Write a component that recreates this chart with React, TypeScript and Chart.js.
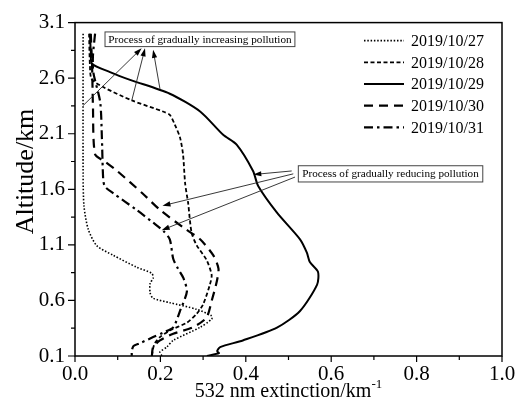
import React, { useEffect, useRef } from "react";
import { Chart, registerables } from "chart.js";

Chart.register(...registerables);

// ---- data ----
const seriesLabels = ["2019/10/27", "2019/10/28", "2019/10/29", "2019/10/30", "2019/10/31"];

const ext27 = [0.019, 0.019, 0.021, 0.031, 0.051, 0.089, 0.144, 0.18, 0.183, 0.176, 0.176, 0.183, 0.222, 0.285, 0.32, 0.32, 0.293, 0.23, 0.215, 0.199, 0.204];
const alt27 = [3.0, 1.74, 1.45, 1.24, 1.093, 1.007, 0.9, 0.843, 0.8, 0.755, 0.667, 0.62, 0.58, 0.52, 0.461, 0.432, 0.358, 0.24, 0.18, 0.135, 0.1];

const ext28 = [0.033, 0.035, 0.039, 0.066, 0.133, 0.206, 0.222, 0.234, 0.246, 0.253, 0.258, 0.265, 0.273, 0.285, 0.308, 0.32, 0.316, 0.3, 0.285, 0.262, 0.222, 0.199, 0.187, 0.183, 0.18];
const alt28 = [3.0, 2.71, 2.59, 2.52, 2.4, 2.3, 2.27, 2.18, 2.065, 1.915, 1.65, 1.475, 1.21, 1.096, 0.965, 0.83, 0.743, 0.565, 0.48, 0.4, 0.33, 0.27, 0.215, 0.17, 0.1];

const ext29 = [0.035, 0.037, 0.04, 0.082, 0.129, 0.222, 0.293, 0.347, 0.379, 0.417, 0.429, 0.473, 0.527, 0.543, 0.55, 0.569, 0.567, 0.527, 0.473, 0.393, 0.34, 0.333, 0.337, 0.309];
const alt29 = [3.0, 2.84, 2.73, 2.655, 2.585, 2.46, 2.3, 2.09, 2.0, 1.765, 1.63, 1.39, 1.15, 1.03, 0.945, 0.858, 0.743, 0.505, 0.355, 0.24, 0.18, 0.145, 0.125, 0.1];

const ext30 = [0.037, 0.04, 0.042, 0.047, 0.07, 0.098, 0.159, 0.199, 0.254, 0.293, 0.324, 0.336, 0.332, 0.32, 0.308, 0.277, 0.23, 0.199, 0.183, 0.18];
const alt30 = [3.0, 2.71, 2.355, 1.915, 1.85, 1.768, 1.56, 1.415, 1.255, 1.15, 1.005, 0.887, 0.77, 0.595, 0.446, 0.36, 0.3, 0.24, 0.18, 0.1];

const ext31 = [0.047, 0.042, 0.043, 0.059, 0.063, 0.066, 0.07, 0.09, 0.144, 0.183, 0.207, 0.222, 0.23, 0.241, 0.254, 0.262, 0.246, 0.23, 0.206, 0.183, 0.152, 0.137, 0.133, 0.133];
const alt31 = [3.0, 2.8, 2.65, 2.385, 2.06, 1.695, 1.625, 1.563, 1.415, 1.3, 1.225, 1.15, 0.975, 0.887, 0.8, 0.68, 0.506, 0.358, 0.31, 0.27, 0.215, 0.19, 0.145, 0.1];

const extTicks = [0, 0.2, 0.4, 0.6, 0.8, 1.0];
const extMinorTicks = [0.1, 0.3, 0.5, 0.7, 0.9];
const altTicks = [0.1, 0.6, 1.1, 1.6, 2.1, 2.6, 3.1];
const altMinorTicks = [0.35, 0.85, 1.35, 1.85, 2.35, 2.85];

const xTitle = "532 nm extinction/km";
const xTitleSup = "-1";
const yTitle = "Altitude/km";

// annotations in data coordinates
const noteTexts = ["Process of gradually increasing pollution", "Process of gradually reducing pollution"];
const noteBoxX = [0.0703, 0.523]; // left edge
const noteBoxX2 = [0.515, 0.955]; // right edge
const noteBoxTop = [3.016, 1.812];
const noteBoxBottom = [2.884, 1.666];
const arrowTailX = [0.0194, 0.133, 0.199, 0.5075, 0.5112, 0.5152];
const arrowTailY = [2.355, 2.4, 2.503, 1.765, 1.739, 1.71];
const arrowHeadX = [0.156, 0.164, 0.183, 0.4176, 0.2049, 0.203];
const arrowHeadY = [2.869, 2.869, 2.855, 1.733, 1.452, 1.232];

const SERIF = "'Liberation Serif', 'Times New Roman', serif";

const styles = [
  { dash: [1.5, 1.8], width: 1.6 },
  { dash: [4, 2.5], width: 1.8 },
  { dash: [], width: 2 },
  { dash: [9, 6], width: 2.2 },
  { dash: [9, 4, 2.5, 4], width: 2.2 },
];

const pairs = [
  [ext27, alt27],
  [ext28, alt28],
  [ext29, alt29],
  [ext30, alt30],
  [ext31, alt31],
];

const framePlugin = {
  id: "framePlugin",
  afterDraw(chart: any) {
    const { ctx, chartArea } = chart;
    const xs = chart.scales.x;
    const ys = chart.scales.y;
    const { left, right, top, bottom } = chartArea;
    ctx.save();
    // frame
    ctx.strokeStyle = "#000";
    ctx.lineWidth = 1.5;
    ctx.setLineDash([]);
    ctx.strokeRect(left, top, right - left, bottom - top);
    // ticks
    ctx.lineWidth = 1.2;
    ctx.beginPath();
    extTicks.forEach((v) => {
      const px = xs.getPixelForValue(v);
      ctx.moveTo(px, bottom);
      ctx.lineTo(px, bottom + 6);
    });
    extMinorTicks.forEach((v) => {
      const px = xs.getPixelForValue(v);
      ctx.moveTo(px, bottom);
      ctx.lineTo(px, bottom + 4);
    });
    altTicks.forEach((v) => {
      const py = ys.getPixelForValue(v);
      ctx.moveTo(left, py);
      ctx.lineTo(left - 7, py);
    });
    altMinorTicks.forEach((v) => {
      const py = ys.getPixelForValue(v);
      ctx.moveTo(left, py);
      ctx.lineTo(left - 4, py);
    });
    ctx.stroke();

    // axis titles
    ctx.fillStyle = "#000";
    ctx.font = `20px ${SERIF}`;
    const mainW = ctx.measureText(xTitle).width;
    ctx.font = `13px ${SERIF}`;
    const supW = ctx.measureText(xTitleSup).width;
    const cx = (left + right) / 2;
    const startX = cx - (mainW + supW) / 2;
    const baseY = 397;
    ctx.textBaseline = "alphabetic";
    ctx.textAlign = "left";
    ctx.font = `20px ${SERIF}`;
    ctx.fillText(xTitle, startX, baseY);
    ctx.font = `13px ${SERIF}`;
    ctx.fillText(xTitleSup, startX + mainW, baseY - 9);

    ctx.save();
    ctx.translate(32.5, 171.5);
    ctx.rotate(-Math.PI / 2);
    ctx.font = `26px ${SERIF}`;
    ctx.textAlign = "center";
    ctx.textBaseline = "alphabetic";
    ctx.fillText(yTitle, 0, 0);
    ctx.restore();

    // legend
    const rowH = 21.7;
    const legTop = top + 18;
    ctx.font = `16px ${SERIF}`;
    ctx.textBaseline = "middle";
    chart.data.datasets.forEach((ds: any, i: number) => {
      const yy = legTop + i * rowH;
      ctx.beginPath();
      ctx.setLineDash(styles[i].dash);
      ctx.lineWidth = styles[i].width;
      ctx.moveTo(right - 138, yy);
      ctx.lineTo(right - 98, yy);
      ctx.stroke();
      ctx.setLineDash([]);
      ctx.fillText(ds.label, right - 91, yy + 1);
    });

    // notes
    ctx.font = `11.2px ${SERIF}`;
    noteTexts.forEach((t, i) => {
      const x1 = xs.getPixelForValue(noteBoxX[i]);
      const x2 = xs.getPixelForValue(noteBoxX2[i]);
      const y1 = ys.getPixelForValue(noteBoxTop[i]);
      const y2 = ys.getPixelForValue(noteBoxBottom[i]);
      ctx.fillStyle = "#fff";
      ctx.fillRect(x1, y1, x2 - x1, y2 - y1);
      ctx.strokeStyle = "#444";
      ctx.lineWidth = 1;
      ctx.strokeRect(x1, y1, x2 - x1, y2 - y1);
      ctx.fillStyle = "#000";
      ctx.textAlign = "center";
      ctx.textBaseline = "middle";
      ctx.fillText(t, (x1 + x2) / 2, (y1 + y2) / 2 + 0.5);
    });

    // arrows
    ctx.strokeStyle = "#222";
    ctx.fillStyle = "#000";
    ctx.lineWidth = 0.9;
    arrowTailX.forEach((tx, i) => {
      const ax = xs.getPixelForValue(tx);
      const ay = ys.getPixelForValue(arrowTailY[i]);
      const bx = xs.getPixelForValue(arrowHeadX[i]);
      const by = ys.getPixelForValue(arrowHeadY[i]);
      const ang = Math.atan2(by - ay, bx - ax);
      const hl = 8;
      const hw = 2.6;
      ctx.beginPath();
      ctx.moveTo(ax, ay);
      ctx.lineTo(bx - Math.cos(ang) * hl * 0.8, by - Math.sin(ang) * hl * 0.8);
      ctx.stroke();
      ctx.beginPath();
      ctx.moveTo(bx, by);
      ctx.lineTo(bx - Math.cos(ang) * hl - Math.sin(ang) * hw, by - Math.sin(ang) * hl + Math.cos(ang) * hw);
      ctx.lineTo(bx - Math.cos(ang) * hl + Math.sin(ang) * hw, by - Math.sin(ang) * hl - Math.cos(ang) * hw);
      ctx.closePath();
      ctx.fill();
    });
    ctx.restore();
  },
};

export default function App() {
  const ref = useRef<HTMLCanvasElement | null>(null);
  useEffect(() => {
    if (!ref.current) return;
    const chart = new Chart(ref.current, {
      type: "line",
      data: {
        datasets: pairs.map((p, i) => ({
          label: seriesLabels[i],
          data: p[0].map((x, j) => ({ x, y: p[1][j] })),
          borderColor: "#000",
          borderWidth: styles[i].width,
          borderDash: styles[i].dash,
          pointRadius: 0,
          fill: false,
          tension: 0.25,
          cubicInterpolationMode: "default",
        })),
      },
      options: {
        animation: false,
        responsive: false,
        parsing: false,
        layout: { padding: { top: 15, right: 22, left: 0, bottom: 0 } },
        plugins: { legend: { display: false }, tooltip: { enabled: false } },
        scales: {
          x: {
            type: "linear",
            min: 0,
            max: 1,
            grid: { display: false, drawTicks: false },
            border: { display: false },
            afterBuildTicks: (s: any) => {
              s.ticks = extTicks.map((v) => ({ value: v }));
            },
            afterFit: (s: any) => {
              s.height = 56;
            },
            ticks: {
              padding: 6,
              color: "#000",
              font: { family: SERIF, size: 21 },
              callback: (v: any) => Number(v).toFixed(1),
              maxRotation: 0,
            },
          },
          y: {
            type: "linear",
            min: 0.1,
            max: 3.1,
            grid: { display: false, drawTicks: false },
            border: { display: false },
            afterBuildTicks: (s: any) => {
              s.ticks = altTicks.map((v) => ({ value: v }));
            },
            afterFit: (s: any) => {
              s.width = 75;
            },
            ticks: {
              padding: 10,
              color: "#000",
              font: { family: SERIF, size: 21 },
              callback: (v: any) => Number(v).toFixed(1),
            },
          },
        },
      },
      plugins: [framePlugin],
    } as any);
    return () => chart.destroy();
  }, []);
  return (
    <div style={{ position: "absolute", left: 0, top: 0, width: 524, height: 412, background: "#fff" }}>
      <canvas ref={ref} width={524} height={412} />
    </div>
  );
}
